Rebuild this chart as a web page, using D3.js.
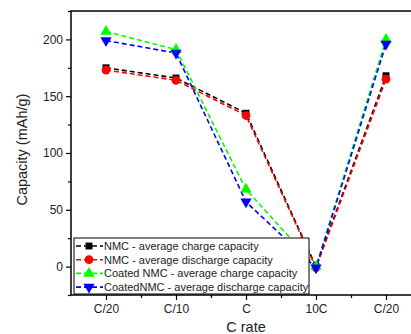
<!DOCTYPE html>
<html>
<head>
<meta charset="utf-8">
<script src="https://cdn.jsdelivr.net/npm/d3@7"></script>
<style>
  body { margin: 0; background: #fff; }
  text { font-family: "Liberation Sans", Arial, sans-serif; }
</style>
</head>
<body>
<svg id="chart" width="411" height="334"></svg>
<script>
const categories = ['C/20', 'C/10', 'C', '10C', 'C/20'];
const nmcCharge = [175, 166, 135, 0, 168];
const nmcDischarge = [173, 164, 133, -1, 165];
const coatedCharge = [207, 191, 68, 0, 200];
const coatedDischarge = [199, 188, 57, -1, 196];
const yTicks = [0, 50, 100, 150, 200];

const series = [
  { name: 'NMC - average charge capacity', values: nmcCharge, color: '#000000', symbol: d3.symbolSquare, size: 48 },
  { name: 'NMC - average discharge capacity', values: nmcDischarge, color: '#ff0000', symbol: d3.symbolCircle, size: 60 },
  { name: 'Coated NMC - average charge capacity', values: coatedCharge, color: '#00ff00', symbol: d3.symbolTriangle, size: 55 },
  { name: 'CoatedNMC - average discharge capacity', values: coatedDischarge, color: '#0000ff', symbol: 'down', size: 55 }
];

const svg = d3.select('#chart');
const margin = { left: 71, top: 11, right: 0, bottom: 39 };
const width = 350, height = 284;

const x = d3.scaleLinear().domain([0.5, 5.5]).range([0, width]);
const y = d3.scaleLinear().domain([-25, 225]).range([height, 0]);

const g = svg.append('g').attr('transform', `translate(${margin.left},${margin.top})`);

// frame
g.append('rect').attr('x', 0).attr('y', 0).attr('width', width).attr('height', height)
  .attr('fill', 'none').attr('stroke', '#000').attr('stroke-width', 1.5);

// y axis
const yAxis = g.append('g').call(d3.axisLeft(y).tickValues(yTicks).tickSize(5).tickSizeOuter(0));
g.append('g').call(d3.axisLeft(y).tickValues(d3.range(-25, 226, 25).filter(v => v % 50 !== 0)).tickSize(3).tickFormat(''));
// x axis
const xAxis = g.append('g').attr('transform', `translate(0,${height})`)
  .call(d3.axisBottom(x).tickValues([1, 2, 3, 4, 5]).tickFormat((d, i) => categories[i]).tickSize(5).tickSizeOuter(0));
g.append('g').attr('transform', `translate(0,${height})`)
  .call(d3.axisBottom(x).tickValues([1.5, 2.5, 3.5, 4.5]).tickSize(3).tickFormat(''));

g.selectAll('.domain').remove();
g.selectAll('.tick line').attr('stroke', '#000').attr('stroke-width', 1.2);
g.selectAll('.tick text').attr('font-size', 12).attr('fill', '#222')
  .attr('font-family', '"Liberation Sans", Arial, sans-serif');
yAxis.selectAll('.tick text').attr('x', -8);
xAxis.selectAll('.tick text').attr('y', 9);

// labels
svg.append('text').attr('transform', `translate(27,${margin.top + y(103)}) rotate(-90)`)
  .attr('text-anchor', 'middle').attr('font-size', 14.5).attr('fill', '#222').text('Capacity (mAh/g)');
svg.append('text').attr('x', margin.left + x(3)).attr('y', 332)
  .attr('text-anchor', 'middle').attr('font-size', 14.5).attr('fill', '#222').text('C rate');

function markerPath(s) {
  return d3.symbol(s.symbol === 'down' ? d3.symbolTriangle : s.symbol, s.size)();
}

const line = d3.line().x((d, i) => x(i + 1)).y(d => y(d));

series.forEach(s => {
  g.append('path').datum(s.values).attr('d', line)
    .attr('fill', 'none').attr('stroke', s.color).attr('stroke-width', 1.6)
    .attr('stroke-dasharray', '5,3');
});
series.forEach(s => {
  g.selectAll(null).data(s.values).enter().append('path')
    .attr('d', markerPath(s))
    .attr('transform', (d, i) => `translate(${x(i + 1)},${y(d)})` + (s.symbol === 'down' ? ' rotate(180)' : ''))
    .attr('fill', s.color);
});

// legend
const lg = svg.append('g').attr('transform', 'translate(74,238)');
lg.append('rect').attr('width', 235).attr('height', 56).attr('fill', '#fff')
  .attr('stroke', '#000').attr('stroke-width', 1);
series.forEach((s, i) => {
  const yy = 8 + i * 13.7;
  lg.append('line').attr('x1', 2).attr('x2', 29).attr('y1', yy).attr('y2', yy)
    .attr('stroke', s.color).attr('stroke-width', 1.6).attr('stroke-dasharray', '5,3');
  lg.append('path').attr('d', markerPath(s))
    .attr('transform', `translate(15,${yy})` + (s.symbol === 'down' ? ' rotate(180)' : ''))
    .attr('fill', s.color);
  lg.append('text').attr('x', 30).attr('y', yy + 4).attr('font-size', 11).attr('fill', '#222').text(s.name);
});
</script>
</body>
</html>
